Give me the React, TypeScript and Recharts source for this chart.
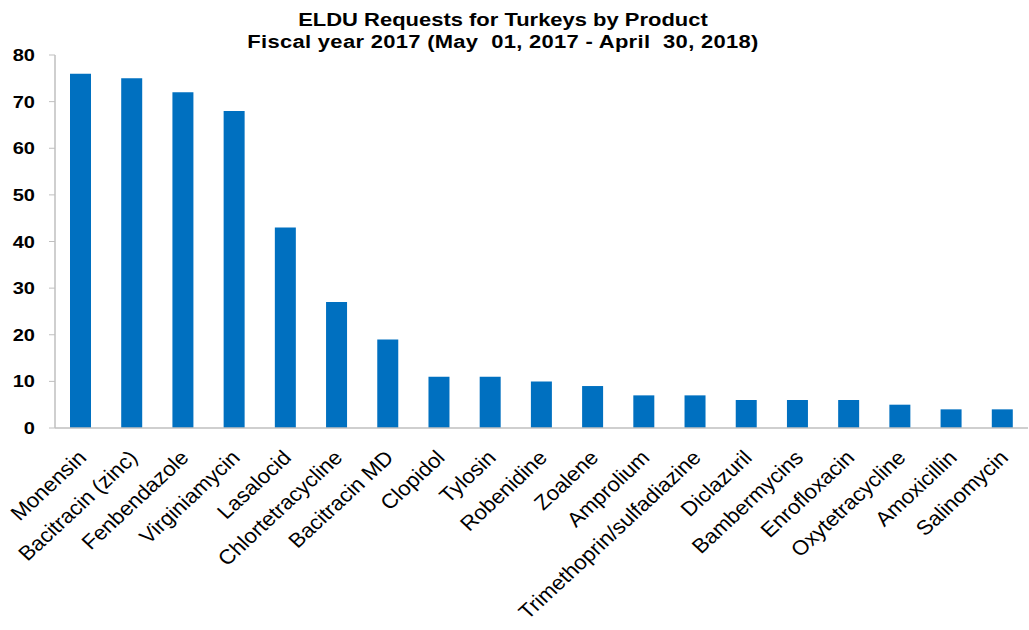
import { Bar, BarChart, XAxis, YAxis } from 'recharts';

const products = [
  'Monensin',
  'Bacitracin (zinc)',
  'Fenbendazole',
  'Virginiamycin',
  'Lasalocid',
  'Chlortetracycline',
  'Bacitracin MD',
  'Clopidol',
  'Tylosin',
  'Robenidine',
  'Zoalene',
  'Amprolium',
  'Trimethoprin/sulfadiazine',
  'Diclazuril',
  'Bambermycins',
  'Enrofloxacin',
  'Oxytetracycline',
  'Amoxicillin',
  'Salinomycin',
];

const requests = [76, 75, 72, 68, 43, 27, 19, 11, 11, 10, 9, 7, 7, 6, 6, 6, 5, 4, 4];

const yTicks = [0, 10, 20, 30, 40, 50, 60, 70, 80];

const data = products.map((name, i) => ({ name, requests: requests[i] }));

const FONT = "'Liberation Sans', Arial, sans-serif";
const AXIS_GRAY = '#BFBFBF';
const BAR_BLUE = '#0070C0';

function ProductTick({ x, y, payload }: any) {
  return (
    <g transform={`translate(${x + 7},${y + 29}) scale(1.08,1) rotate(-45)`}>
      <text x={0} y={0} textAnchor="end" fontFamily={FONT} fontSize={20.5} fill="#000">
        {payload.value}
      </text>
    </g>
  );
}

function CountTick({ x, y, payload }: any) {
  return (
    <g transform={`translate(${x},${y}) scale(1.25,1)`}>
      <text x={0} y={0} dy={6} textAnchor="end" fontFamily={FONT} fontSize={16} fontWeight="bold" fill="#000">
        {payload.value}
      </text>
    </g>
  );
}

export default function App() {
  return (
    <div style={{ position: 'absolute', left: 0, top: 0, width: 1029, height: 630, background: '#fff' }}>
      <div
        style={{
          position: 'absolute',
          left: 0,
          top: 9,
          width: 1006,
          textAlign: 'center',
          fontFamily: FONT,
          fontWeight: 'bold',
          fontSize: 18,
          lineHeight: '22px',
          color: '#000',
          whiteSpace: 'pre',
          transform: 'scaleX(1.22)',
          transformOrigin: '503px 0',
        }}
      >
        <div>ELDU Requests for Turkeys by Product</div>
        <div style={{ letterSpacing: 0.25 }}>Fiscal year 2017 (May  01, 2017 - April  30, 2018)</div>
      </div>
      <BarChart
        width={1029}
        height={630}
        data={data}
        margin={{ top: 55, right: 1, bottom: 0, left: 0 }}
        barSize={21}
      >
        <XAxis
          dataKey="name"
          interval={0}
          height={202}
          tickLine={false}
          tickSize={0}
          axisLine={{ stroke: AXIS_GRAY, strokeWidth: 1.5 }}
          tick={<ProductTick />}
        />
        <YAxis
          width={55}
          domain={[0, 80]}
          ticks={yTicks}
          interval={0}
          tickSize={6}
          tickMargin={14}
          tickLine={{ stroke: AXIS_GRAY }}
          axisLine={{ stroke: AXIS_GRAY, strokeWidth: 1.5 }}
          tick={<CountTick />}
        />
        <Bar dataKey="requests" fill={BAR_BLUE} isAnimationActive={false} />
      </BarChart>
    </div>
  );
}
